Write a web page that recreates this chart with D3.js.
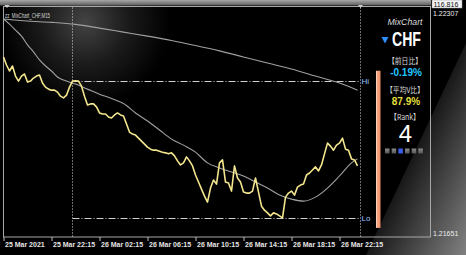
<!DOCTYPE html>
<html>
<head>
<meta charset="utf-8">
<script src="https://cdn.jsdelivr.net/npm/d3@7"></script>
<style>
body { margin: 0; background: #000; }
svg { display: block; }
text { font-family: "Liberation Sans", Arial, sans-serif; }
</style>
</head>
<body>
<svg id="chart"></svg>
<script>
// chart data (M15 bars, first bar = 25 Mar 18:15)
const title = 'zz_MixChart_CHF,M15'
const tickBars = [0, 16, 32, 48, 64, 80, 96, 112]
const tickLabels = ['25 Mar 2021', '25 Mar 22:15', '26 Mar 02:15', '26 Mar 06:15',
                    '26 Mar 10:15', '26 Mar 14:15', '26 Mar 18:15', '26 Mar 22:15']
const priceRange = [1.21651, 1.22307]
const bidPrice = '116.816'

const closes = [
  1.22176, 1.22152, 1.22134, 1.22149, 1.22119, 1.22104, 1.22119, 1.22125, 1.22101, 1.22104,
  1.22113, 1.22119, 1.22122, 1.22098, 1.22086, 1.22080, 1.22077, 1.22077, 1.22071, 1.22059,
  1.22054, 1.22062, 1.22086, 1.22104, 1.22105, 1.22104, 1.22089, 1.22059, 1.22033, 1.22036,
  1.22036, 1.22027, 1.22009, 1.22006, 1.22006, 1.21997, 1.21994, 1.22003, 1.22009, 1.22003,
  1.22000, 1.21976, 1.21952, 1.21946, 1.21943, 1.21934, 1.21925, 1.21916, 1.21907, 1.21901,
  1.21898, 1.21898, 1.21895, 1.21892, 1.21890, 1.21887, 1.21890, 1.21881, 1.21866, 1.21854,
  1.21860, 1.21878, 1.21866, 1.21851, 1.21824, 1.21803, 1.21782, 1.21761, 1.21743, 1.21785,
  1.21809, 1.21797, 1.21860, 1.21869, 1.21803, 1.21800, 1.21776, 1.21851, 1.21815, 1.21803,
  1.21773, 1.21770, 1.21770, 1.21776, 1.21815, 1.21773, 1.21731, 1.21719, 1.21711, 1.21702,
  1.21711, 1.21708, 1.21702, 1.21696, 1.21758, 1.21770, 1.21776, 1.21764, 1.21788, 1.21794,
  1.21797, 1.21824, 1.21830, 1.21839, 1.21848, 1.21836, 1.21854, 1.21887, 1.21919, 1.21910,
  1.21898, 1.21913, 1.21919, 1.21934, 1.21901, 1.21898, 1.21872, 1.21869, 1.21851
]

// slow average (upper grey line)
const slowBars = [0, 8, 16, 24, 32, 40, 48, 56, 64, 72, 80, 88, 96, 104, 112, 118]
const slowVals = [1.22289, 1.22283, 1.22279, 1.22273, 1.22262, 1.22250, 1.22238, 1.22225,
                  1.22210, 1.22194, 1.22176, 1.22158, 1.22140, 1.22119, 1.22098, 1.22077]

// fast average (lower grey line)
const fastBars = [0, 2, 4, 6, 8, 10, 12, 14, 16, 18, 20, 24, 28, 32, 36, 40, 44, 48,
                  52, 56, 60, 64, 68, 72, 76, 80, 84, 88, 92, 96, 100, 104, 108, 112, 116, 118]
const fastVals = [1.22289, 1.22274, 1.22256, 1.22238, 1.22212, 1.22191, 1.22167, 1.22149,
                  1.22134, 1.22116, 1.22107, 1.22095, 1.22080, 1.22065, 1.22052, 1.22037,
                  1.22009, 1.21985, 1.21958, 1.21931, 1.21913, 1.21892, 1.21860, 1.21845,
                  1.21833, 1.21821, 1.21803, 1.21785, 1.21764, 1.21752, 1.21746, 1.21758,
                  1.21785, 1.21821, 1.21860, 1.21872]

// day session: from bar 23 (26 Mar 00:00) to bar 119 (27 Mar 00:00)
const sessionStart = 23
const sessionEnd = 119

// side panel
const currency = 'CHF'
const panelLabels = ['【前日比】', '【平均V比】', '【Rank】']
const dayChange = '-0.19%'
const volRatio = '87.9%'
const rank = 4
const rankCount = 6

const width = 466
const height = 255
const frame = { left: 3.5, top: 6.5, right: 430.5, bottom: 237 }

const x = d3.scaleLinear().domain([0, 119]).range([3.5, 360.5])
const y = d3.scaleLinear().domain(priceRange).range([233, 13])

const svg = d3.select('#chart').attr('width', width).attr('height', height)
const defs = svg.append('defs')

const glow = defs.append('radialGradient').attr('id', 'glow')
    .attr('gradientUnits', 'userSpaceOnUse')
    .attr('cx', 85).attr('cy', 22).attr('r', 85)
glow.append('stop').attr('offset', 0).attr('stop-color', '#5a5a5a').attr('stop-opacity', 0.75)
glow.append('stop').attr('offset', 0.5).attr('stop-color', '#5a5a5a').attr('stop-opacity', 0.3)
glow.append('stop').attr('offset', 1).attr('stop-color', '#5a5a5a').attr('stop-opacity', 0)

const sheen = defs.append('linearGradient').attr('id', 'sheen')
    .attr('gradientUnits', 'userSpaceOnUse')
    .attr('x1', 416).attr('y1', 149).attr('x2', 497).attr('y2', 187)
sheen.append('stop').attr('offset', 0).attr('stop-color', '#181818')
sheen.append('stop').attr('offset', 1).attr('stop-color', '#808080')

const topbar = defs.append('linearGradient').attr('id', 'topbar')
    .attr('x1', 0).attr('y1', 0).attr('x2', 0).attr('y2', 1)
topbar.append('stop').attr('offset', 0).attr('stop-color', '#a8a8a8')
topbar.append('stop').attr('offset', 1).attr('stop-color', '#5c5c5c')

const gauge = defs.append('linearGradient').attr('id', 'gauge')
gauge.append('stop').attr('offset', 0).attr('stop-color', '#ffe2d2')
gauge.append('stop').attr('offset', 0.35).attr('stop-color', '#f6a27e')
gauge.append('stop').attr('offset', 1).attr('stop-color', '#ee8f66')

const sq = defs.append('linearGradient').attr('id', 'sq')
    .attr('x1', 0).attr('y1', 0).attr('x2', 0).attr('y2', 1)
sq.append('stop').attr('offset', 0).attr('stop-color', '#8a8a8a')
sq.append('stop').attr('offset', 1).attr('stop-color', '#555')

// background
svg.append('rect').attr('width', width).attr('height', height).attr('fill', '#000')
svg.append('rect').attr('width', width).attr('height', height).attr('fill', 'url(#glow)')
svg.append('path').attr('d', 'M466,43 L466,255 L366,255 Z').attr('fill', 'url(#sheen)')

svg.append('rect').attr('x', 0).attr('y', 0).attr('width', 431).attr('height', 5.5)
    .attr('fill', 'url(#topbar)')
svg.append('rect')
    .attr('x', frame.left).attr('y', frame.top)
    .attr('width', frame.right - frame.left).attr('height', frame.bottom - frame.top)
    .attr('fill', 'none').attr('stroke', '#a8a8a8')

// small shift markers on top edge
svg.selectAll('.mark').data([7, x(sessionEnd)]).join('path')
    .attr('d', d => `M${d - 2.5},5 L${d + 2.5},5 L${d},8 Z`)
    .attr('fill', '#ccc')

svg.append('text').attr('x', 5).attr('y', 17.5)
    .attr('font-size', 8).attr('fill', '#d6d6d6')
    .attr('textLength', 45).attr('lengthAdjust', 'spacingAndGlyphs')
    .text(title)

// session lines
const hi = d3.max(closes.slice(sessionStart))
const lo = d3.min(closes.slice(sessionStart))

svg.selectAll('.vline').data([sessionStart, sessionEnd]).join('line')
    .attr('x1', d => x(d)).attr('x2', d => x(d))
    .attr('y1', frame.top + 1).attr('y2', frame.bottom)
    .attr('stroke', '#d8d8d8').attr('stroke-dasharray', '1,2')

svg.selectAll('.hline').data([hi, lo]).join('line')
    .attr('x1', x(sessionStart)).attr('x2', x(sessionEnd))
    .attr('y1', d => Math.round(y(d)) + 0.5).attr('y2', d => Math.round(y(d)) + 0.5)
    .attr('stroke', '#cfcfcf').attr('stroke-dasharray', '7,2,1,2')

svg.selectAll('.hilo').data([[hi, 'Hi'], [lo, 'Lo']]).join('text')
    .attr('x', x(sessionEnd) + 1).attr('y', d => y(d[0]) + 3)
    .attr('font-size', 8).attr('fill', '#9cc4ff')
    .text(d => d[1])

// averages + close line
const curve = d3.line().curve(d3.curveMonotoneX)
svg.append('path')
    .attr('d', curve(slowBars.map((b, i) => [x(b), y(slowVals[i])])))
    .attr('fill', 'none').attr('stroke', '#a0a0a0').attr('stroke-width', 1.1)
svg.append('path')
    .attr('d', curve(fastBars.map((b, i) => [x(b), y(fastVals[i])])))
    .attr('fill', 'none').attr('stroke', '#a0a0a0').attr('stroke-width', 1.1)

const line = d3.line().x((d, i) => x(i)).y(d => y(d))
svg.append('path').datum(closes)
    .attr('d', line)
    .attr('fill', 'none').attr('stroke', '#f3e68e').attr('stroke-width', 1.6)
    .attr('stroke-linejoin', 'round')

// gauge bar
svg.append('rect')
    .attr('x', 376).attr('width', 4.5)
    .attr('y', y(hi) - 10).attr('height', y(lo) - y(hi) + 20)
    .attr('fill', 'url(#gauge)')

// side panel
const cx = 405
svg.append('text').attr('x', cx).attr('y', 25).attr('text-anchor', 'middle')
    .attr('font-size', 9).attr('font-style', 'italic').attr('fill', '#dcdcdc')
    .attr('textLength', 35).attr('lengthAdjust', 'spacingAndGlyphs')
    .text('MixChart')
svg.append('path').attr('d', 'M381.5,37 L388.5,37 L385,43.5 Z').attr('fill', '#2f8fff')
svg.append('text').attr('x', 392).attr('y', 45.5)
    .attr('font-size', 21).attr('font-weight', 'bold').attr('fill', '#fff')
    .attr('textLength', 29).attr('lengthAdjust', 'spacingAndGlyphs')
    .text(currency)

const cjk = '"Noto Sans CJK JP", sans-serif'
const labelY = [63.5, 92.5, 120]
const labelW = [34, 38, 30]
panelLabels.forEach((t, i) => {
    svg.append('text').attr('x', cx).attr('y', labelY[i]).attr('text-anchor', 'middle')
        .style('font-family', cjk).attr('font-size', 8).attr('fill', '#dcdcdc')
        .attr('textLength', labelW[i]).attr('lengthAdjust', 'spacingAndGlyphs')
        .text(t)
})
svg.append('text').attr('x', cx + 1).attr('y', 76).attr('text-anchor', 'middle')
    .attr('font-size', 10).attr('font-weight', 'bold').attr('fill', '#22c4ff')
    .text(dayChange)
svg.append('text').attr('x', cx + 1).attr('y', 104.5).attr('text-anchor', 'middle')
    .attr('font-size', 10).attr('font-weight', 'bold').attr('fill', '#e4df3c')
    .text(volRatio)
svg.append('text').attr('x', cx + 0.5).attr('y', 142).attr('text-anchor', 'middle')
    .attr('font-size', 24).attr('fill', '#fff')
    .text(rank)

svg.selectAll('.rank').data(d3.range(rankCount)).join('rect')
    .attr('x', d => 385 + d * 6.67).attr('y', 148.5)
    .attr('width', 4.5).attr('height', 5)
    .attr('fill', d => d === rankCount - rank ? '#3a5ee8' : 'url(#sq)')

// axes
const xAxis = d3.axisBottom(x).tickValues(tickBars)
    .tickFormat((d, i) => tickLabels[i]).tickSize(4).tickPadding(1)
const gx = svg.append('g').attr('transform', `translate(0,${frame.bottom})`).call(xAxis)
gx.select('.domain').remove()
gx.selectAll('line').attr('stroke', '#bbb')
gx.selectAll('text').attr('text-anchor', 'start').attr('dx', 1)
    .attr('fill', '#e6e6e6').attr('font-size', 7).attr('font-weight', 'bold')
    .style('font-family', '"Liberation Sans", Arial, sans-serif')

const yAxis = d3.axisRight(y).tickValues(priceRange).tickFormat(d3.format('.5f'))
    .tickSize(0).tickPadding(2.5)
const gy = svg.append('g').attr('transform', `translate(${frame.right},0)`).call(yAxis)
gy.select('.domain').remove()
gy.selectAll('text').attr('fill', '#eee').attr('font-size', 7)
    .style('font-family', '"Liberation Sans", Arial, sans-serif')

// bid box
svg.append('rect').attr('x', 432).attr('y', 0).attr('width', 30).attr('height', 8)
    .attr('fill', '#f4f4f4').attr('stroke', '#999').attr('stroke-width', 0.5)
svg.append('text').attr('x', 433.5).attr('y', 6.8)
    .attr('font-size', 7).attr('fill', '#111')
    .text(bidPrice)
</script>
</body>
</html>
